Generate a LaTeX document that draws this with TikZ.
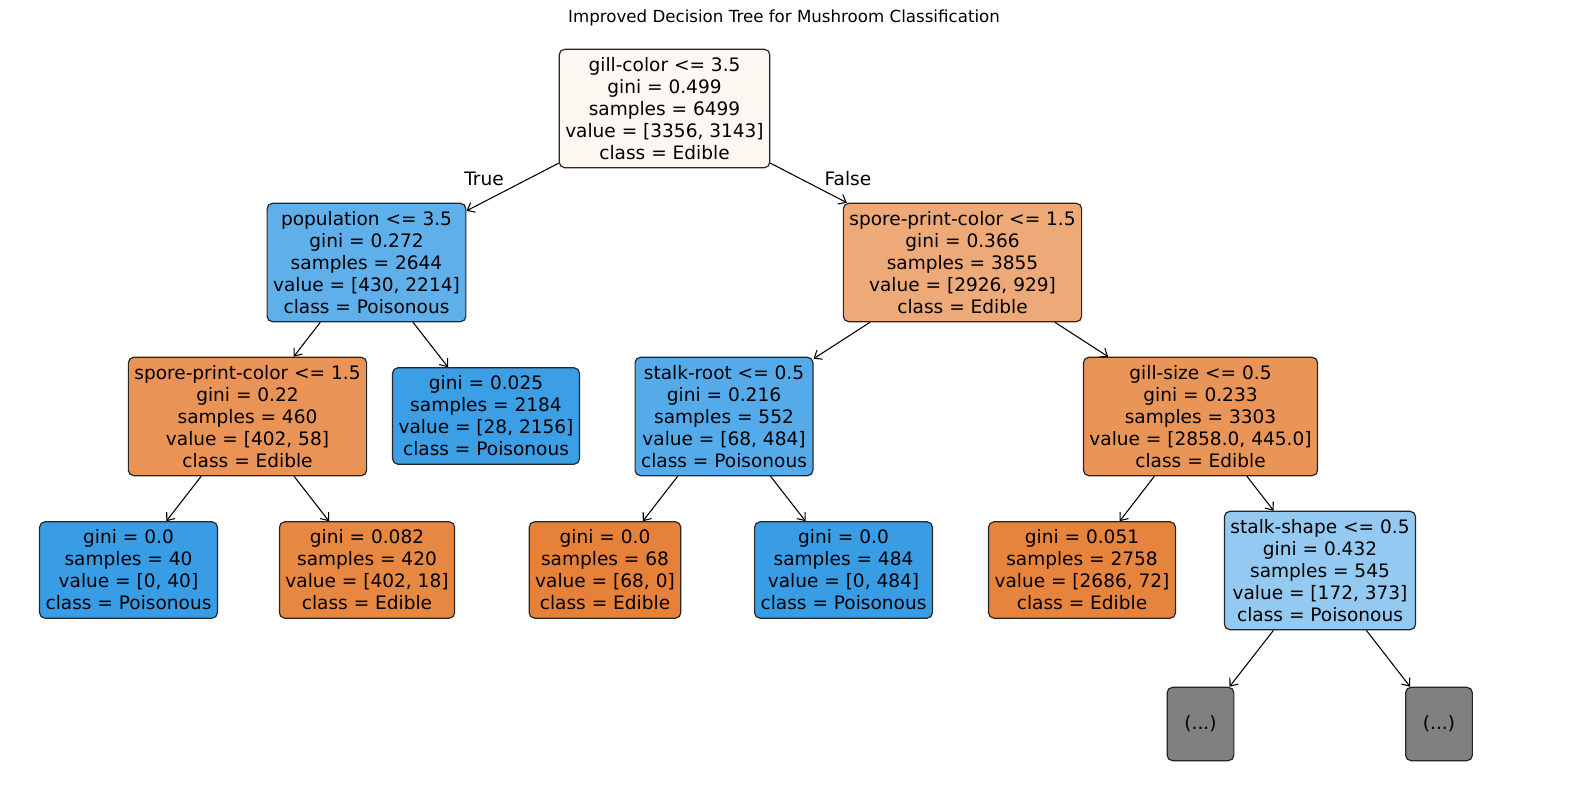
\documentclass[tikz,border=0pt]{standalone}
\usepackage{fontspec}
\setmainfont{DejaVu Sans}
\usetikzlibrary{arrows.meta}

\definecolor{edroot}{RGB}{253,247,242}
\definecolor{poA}{RGB}{95,176,234}
\definecolor{edA}{RGB}{237,169,120}
\definecolor{edB}{RGB}{233,147,86}
\definecolor{poB}{RGB}{60,158,229}
\definecolor{poC}{RGB}{85,171,233}
\definecolor{edC}{RGB}{233,149,88}
\definecolor{poD}{RGB}{57,157,229}
\definecolor{edD}{RGB}{230,135,66}
\definecolor{edE}{RGB}{229,129,57}
\definecolor{edF}{RGB}{230,132,62}
\definecolor{poE}{RGB}{148,202,241}
\definecolor{cutgray}{RGB}{128,128,128}

\begin{document}
\begin{tikzpicture}[x=0.75pt,y=-0.75pt,>={Straight Barb[length=5pt,width=8pt]},
    leaf/.style={draw=black!85,line width=0.9pt,rounded corners=4pt,align=center,
      font=\fontsize{13.9}{16.5}\selectfont,inner xsep=4.5pt,inner ysep=6pt},
    edge/.style={->,line width=0.8pt}]
    \useasboundingbox (0,0) rectangle (1570,812);
    \node[font=\fontsize{12.5}{15}\selectfont] (title) at (784,18) {Improved Decision Tree for Mushroom Classification};
    % depth 0
    \node[leaf,fill=edroot] (root) at (664.5,108.5) {gill-color <= 3.5\\gini = 0.499\\samples = 6499\\value = [3356, 3143]\\class = Edible};
    % depth 1
    \node[leaf,fill=poA] (popn) at (366.5,262.5) {population <= 3.5\\gini = 0.272\\samples = 2644\\value = [430, 2214]\\class = Poisonous};
    \node[leaf,fill=edA] (sporeR) at (962.5,262.5) {spore-print-color <= 1.5\\gini = 0.366\\samples = 3855\\value = [2926, 929]\\class = Edible};
    % depth 2
    \node[leaf,fill=edB] (sporeL) at (247.5,416.5) {spore-print-color <= 1.5\\gini = 0.22\\samples = 460\\value = [402, 58]\\class = Edible};
    \node[leaf,fill=poB] (leafA) at (486,416) {gini = 0.025\\samples = 2184\\value = [28, 2156]\\class = Poisonous};
    \node[leaf,fill=poC] (stalkR) at (724,416.5) {stalk-root <= 0.5\\gini = 0.216\\samples = 552\\value = [68, 484]\\class = Poisonous};
    \node[leaf,fill=edC] (gillS) at (1200.5,416.5) {gill-size <= 0.5\\gini = 0.233\\samples = 3303\\value = [2858.0, 445.0]\\class = Edible};
    % depth 3
    \node[leaf,fill=poD] (leafB) at (128.5,570) {gini = 0.0\\samples = 40\\value = [0, 40]\\class = Poisonous};
    \node[leaf,fill=edD] (leafC) at (367,570) {gini = 0.082\\samples = 420\\value = [402, 18]\\class = Edible};
    \node[leaf,fill=edE] (leafD) at (605,570) {gini = 0.0\\samples = 68\\value = [68, 0]\\class = Edible};
    \node[leaf,fill=poD] (leafE) at (843.5,570) {gini = 0.0\\samples = 484\\value = [0, 484]\\class = Poisonous};
    \node[leaf,fill=edF] (leafF) at (1082,570) {gini = 0.051\\samples = 2758\\value = [2686, 72]\\class = Edible};
    \node[leaf,fill=poE] (stalkS) at (1320,570.5) {stalk-shape <= 0.5\\gini = 0.432\\samples = 545\\value = [172, 373]\\class = Poisonous};
    % depth 4
    \node[leaf,fill=cutgray,minimum width=50pt,minimum height=55pt] (moreA) at (1200.5,724) {(...)};
    \node[leaf,fill=cutgray,minimum width=50pt,minimum height=55pt] (moreB) at (1439,724) {(...)};
    % edges
    \draw[edge] (root) -- (popn);
    \draw[edge] (root) -- (sporeR);
    \draw[edge] (popn) -- (sporeL);
    \draw[edge] (popn) -- (leafA);
    \draw[edge] (sporeR) -- (stalkR);
    \draw[edge] (sporeR) -- (gillS);
    \draw[edge] (sporeL) -- (leafB);
    \draw[edge] (sporeL) -- (leafC);
    \draw[edge] (stalkR) -- (leafD);
    \draw[edge] (stalkR) -- (leafE);
    \draw[edge] (gillS) -- (leafF);
    \draw[edge] (gillS) -- (stalkS);
    \draw[edge] (stalkS) -- (moreA);
    \draw[edge] (stalkS) -- (moreB);
    \node[font=\fontsize{13.9}{16.5}\selectfont] (lblT) at (484,179) {True};
    \node[font=\fontsize{13.9}{16.5}\selectfont] (lblF) at (848,179) {False};
\end{tikzpicture}
\end{document}
